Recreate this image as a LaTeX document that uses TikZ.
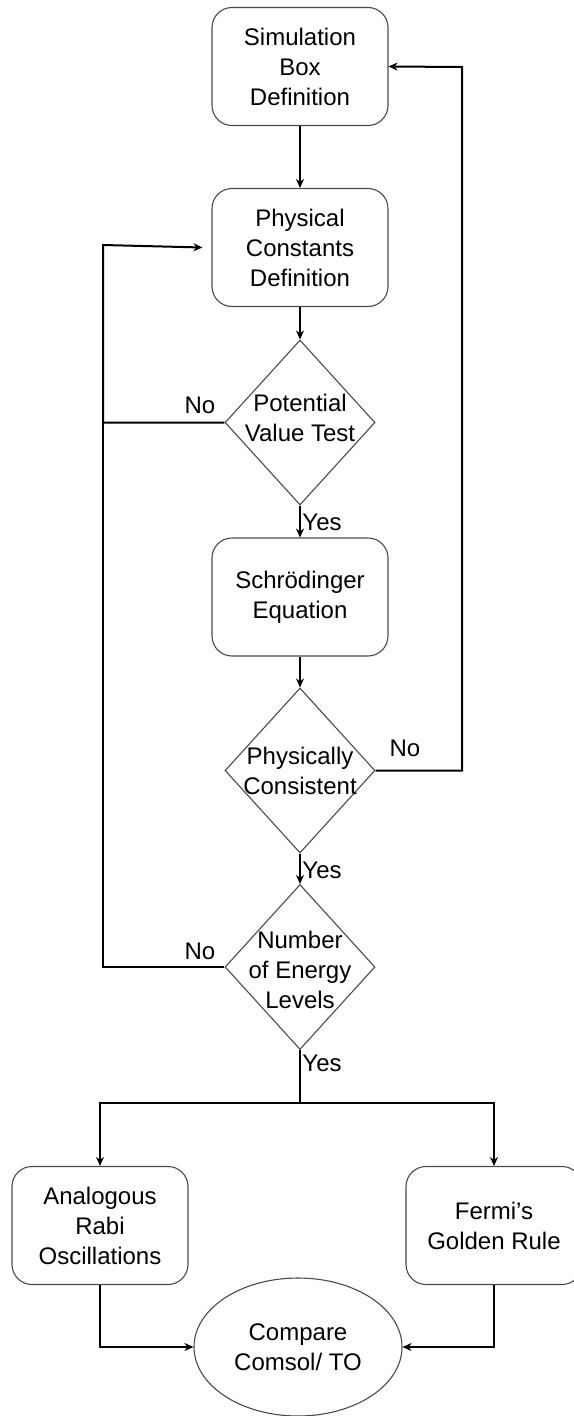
\documentclass[tikz,border=0pt]{standalone}
\usepackage{fontspec}
\setmainfont{Liberation Sans}
\usetikzlibrary{shapes.geometric,arrows.meta}
\definecolor{edgegray}{HTML}{4A4A4A}
\begin{document}
\begin{tikzpicture}[x=1pt,y=-1pt,
  every node/.style={font=\fontsize{24}{30}\selectfont, text=black},
  procbox/.style={draw=edgegray, line width=1.1pt, rounded corners=20pt, minimum width=176pt, minimum height=118pt, align=center, inner sep=0pt},
  decide/.style={draw=edgegray, line width=1.1pt, diamond, aspect=0.909, minimum width=150pt, minimum height=165pt, inner sep=0pt},
  endnode/.style={draw=edgegray, line width=1.1pt, ellipse, minimum width=208pt, minimum height=138pt, align=center, inner sep=0pt},
  flow/.style={draw=black, line width=2pt},
  flowarrow/.style={flow, -{Stealth[length=9pt,width=8pt]}},
  lbl/.style={inner sep=0pt}
]
\useasboundingbox (0,0) rectangle (573,1416);

\node[procbox] (b1) at (300,66.5) {Simulation\\Box\\Definition};
\node[procbox] (b2) at (300,247.5) {Physical\\Constants\\Definition};
\node[decide, label={[align=center, yshift=5pt]center:Potential\\Value Test}] (d1) at (300,422.5) {};
\node[procbox] (b3) at (300,597) {Schrödinger\\Equation};
\node[decide, label={[align=center]center:Physically\\Consistent}] (d2) at (300,770.5) {};
\node[decide, label={[align=center, yshift=-3pt]center:Number\\of Energy\\Levels}] (d3) at (300,967) {};
\node[procbox] (b4) at (100,1225.5) {Analogous\\Rabi\\Oscillations};
\node[procbox] (b5) at (494,1225.5) {Fermi’s\\Golden Rule};
\node[endnode] (e) at (298,1347) {Compare\\Comsol/ TO};

\coordinate (lt) at (103,245);
\coordinate (rt) at (462,67);
\coordinate (br) at (300,1103);

\draw[flowarrow] (b1.south) -- (b2.north);
\draw[flowarrow] (b2.south) -- (d1.north);
\draw[flowarrow] (d1.south) -- (b3.north);
\draw[flowarrow] (b3.south) -- (d2.north);
\draw[flowarrow] (d2.south) -- (d3.north);

\draw[flowarrow] (d1.west) -| (lt) -- ([xshift=-9pt]b2.west);
\draw[flow] (d3.west) -| (lt);
\draw[flowarrow] (d2.east) -| (rt) -- (b1.east);

\draw[flow] (d3.south) -- (br);
\draw[flowarrow] (br) -| (b4.north);
\draw[flowarrow] (br) -| (b5.north);
\draw[flowarrow] (b4.south) |- (e.west);
\draw[flowarrow] (b5.south) |- (e.east);

\node[lbl] (no1) at (200,405) {No};
\node[lbl] (no2) at (405,748) {No};
\node[lbl] (no3) at (200,951) {No};
\node[lbl] (yes1) at (322,522) {Yes};
\node[lbl] (yes2) at (322,870) {Yes};
\node[lbl] (yes3) at (322,1063) {Yes};
\end{tikzpicture}
\end{document}
